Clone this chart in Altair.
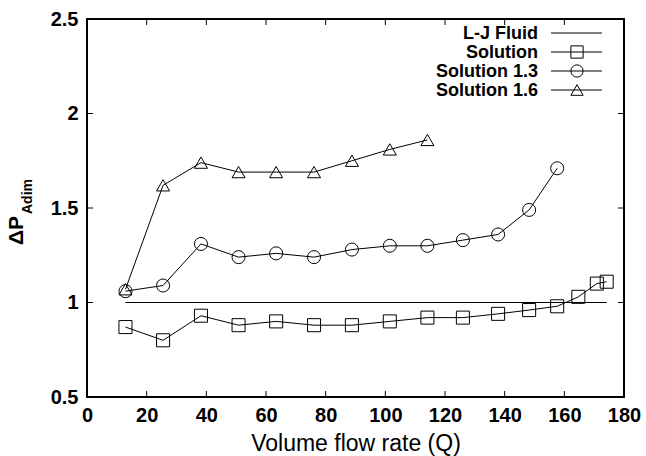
import altair as alt
import pandas as pd

# ---- data ----
q_all = [12.9, 25.5, 38.2, 50.8, 63.4, 76.1, 88.8, 101.5, 114.1, 126.0,
         137.8, 148.2, 157.6, 164.7, 170.9, 174.2]
sol = [0.87, 0.80, 0.93, 0.88, 0.90, 0.88, 0.88, 0.90, 0.92, 0.92,
       0.94, 0.96, 0.98, 1.03, 1.10, 1.11]
sol13 = [1.06, 1.09, 1.31, 1.24, 1.26, 1.24, 1.28, 1.30, 1.30, 1.33,
         1.36, 1.49, 1.71]
sol16 = [1.07, 1.62, 1.74, 1.69, 1.69, 1.69, 1.75, 1.81, 1.86]
lj_q = [12.9, 174.2]
lj_p = [1.0, 1.0]

series_names = ["L-J Fluid", "Solution", "Solution 1.3", "Solution 1.6"]
shapes = [None, "square", "circle", "triangle-up"]
x_ticks = [0, 20, 40, 60, 80, 100, 120, 140, 160, 180]
y_ticks = [0.5, 1.0, 1.5, 2.0, 2.5]

W, H = 537, 378
FONT = "Liberation Sans"

rows = []
for q, p in zip(lj_q, lj_p):
    rows.append({"series": "L-J Fluid", "Q": q, "P": p})
for q, p in zip(q_all, sol):
    rows.append({"series": "Solution", "Q": q, "P": p})
for q, p in zip(q_all, sol13):
    rows.append({"series": "Solution 1.3", "Q": q, "P": p})
for q, p in zip(q_all, sol16):
    rows.append({"series": "Solution 1.6", "Q": q, "P": p})
df = pd.DataFrame(rows)

xs = alt.Scale(domain=[0, 180], nice=False, zero=False)
ys = alt.Scale(domain=[0.5, 2.5], nice=False, zero=False)

xenc = alt.X("Q:Q", scale=xs,
             axis=alt.Axis(values=x_ticks, ticks=False, domain=False, grid=False,
                           labelFont=FONT, labelFontSize=20, labelFontWeight="bold",
                           labelColor="black", labelPadding=8, labelFlush=False,
                           labelOverlap=False,
                           title="Volume flow rate (Q)", titleFont=FONT,
                           titleFontSize=23, titleFontWeight="normal",
                           titleColor="black", titleBaseline="alphabetic",
                           titleY=53, titleX=W / 2))
yenc = alt.Y("P:Q", scale=ys,
             axis=alt.Axis(values=y_ticks, ticks=False, domain=False, grid=False,
                           labelFont=FONT, labelFontSize=20, labelFontWeight="bold",
                           labelColor="black", labelPadding=9, title=None,
                           labelFlush=False, labelOverlap=False,
                           labelExpr="datum.value == 1 ? '1' : datum.value == 2 ? '2' : format(datum.value, '.1f')"))

layers = []
base = alt.Chart(df)
for name, shp in zip(series_names, shapes):
    sub = base.transform_filter(alt.datum.series == name)
    layers.append(sub.mark_line(color="black", strokeWidth=1).encode(x=xenc, y=yenc))
    if shp:
        layers.append(sub.mark_point(shape=shp, filled=False, stroke="black",
                                     strokeWidth=1, size=170, opacity=1)
                      .encode(x="Q:Q", y="P:Q"))

# inward ticks on all four sides
xt = alt.Chart(pd.DataFrame({"v": x_ticks}))
yt = alt.Chart(pd.DataFrame({"v": y_ticks}))
layers.append(xt.mark_rule(color="black", strokeWidth=1).encode(
    x=alt.X("v:Q", scale=xs), y=alt.value(H), y2=alt.value(H - 6)))
layers.append(xt.mark_rule(color="black", strokeWidth=1).encode(
    x=alt.X("v:Q", scale=xs), y=alt.value(0), y2=alt.value(6)))
layers.append(yt.mark_rule(color="black", strokeWidth=1).encode(
    y=alt.Y("v:Q", scale=ys), x=alt.value(0), x2=alt.value(6)))
layers.append(yt.mark_rule(color="black", strokeWidth=1).encode(
    y=alt.Y("v:Q", scale=ys), x=alt.value(W), x2=alt.value(W - 6)))

# legend (drawn manually, label left of symbol)
leg_y = [14, 33, 52, 71]
for name, shp, ly in zip(series_names, shapes, leg_y):
    one = alt.Chart(pd.DataFrame({"t": [name]}))
    layers.append(one.mark_text(font=FONT, fontSize=18, fontWeight="bold",
                                align="right", baseline="middle", color="black")
                  .encode(text="t:N", x=alt.value(451), y=alt.value(ly + 1)))
    layers.append(one.mark_rule(color="black", strokeWidth=1)
                  .encode(x=alt.value(464), x2=alt.value(515), y=alt.value(ly)))
    if shp:
        layers.append(one.mark_point(shape=shp, filled=False, stroke="black",
                                     strokeWidth=1, size=150, opacity=1)
                      .encode(x=alt.value(490), y=alt.value(ly)))

# y title with subscript
layers.append(alt.Chart(pd.DataFrame({"t": ["ΔP"]})).mark_text(
    font=FONT, fontSize=21, fontWeight="bold", angle=270, align="left",
    baseline="alphabetic", color="black").encode(
    text="t:N", x=alt.value(-64), y=alt.value(226)))
layers.append(alt.Chart(pd.DataFrame({"t": ["Adim"]})).mark_text(
    font=FONT, fontSize=14, fontWeight="bold", angle=270, align="left",
    baseline="alphabetic", color="black").encode(
    text="t:N", x=alt.value(-55), y=alt.value(195)))

chart = alt.layer(*layers).properties(
    width=W, height=H,
    autosize=alt.AutoSizeParams(type="none"),
    padding={"left": 87, "top": 19, "right": 646 - 87 - W, "bottom": 456 - 19 - H},
    background="white",
).configure_view(stroke="black", strokeWidth=2)

chart.save("out.html", embed_options={"renderer": "svg", "actions": False})
